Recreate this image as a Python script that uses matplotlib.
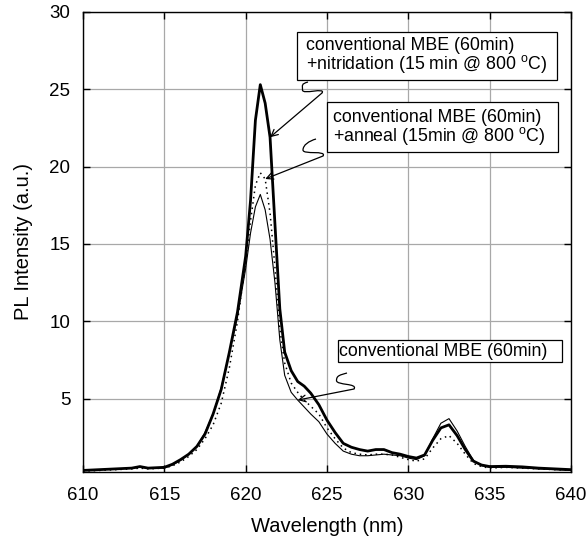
import matplotlib
matplotlib.use("Agg")
import matplotlib.pyplot as plt
from matplotlib.patches import Rectangle, PathPatch
from matplotlib.path import Path

plt.rcParams["font.family"] = ["Liberation Sans", "DejaVu Sans"]
plt.rcParams["mathtext.fontset"] = "custom"
plt.rcParams["mathtext.rm"] = "Liberation Sans"

# PL spectra read on a shared wavelength grid (nm)
wavelength = [610, 611, 612, 613, 613.5, 614, 615, 615.5, 616, 616.5, 617, 617.5,
              618, 618.5, 619, 619.5, 620, 620.3, 620.6, 620.9, 621.2, 621.5, 621.8,
              622.1, 622.4, 622.8, 623.2, 623.6, 624, 624.5, 625, 625.5, 626, 626.5,
              627, 627.5, 628, 628.5, 629, 629.5, 630, 630.5, 631, 631.5, 632, 632.5,
              633, 633.5, 634, 634.5, 635, 636, 637, 638, 639, 640]

nitridation = [0.35, 0.4, 0.45, 0.5, 0.6, 0.5, 0.55, 0.75, 1.05, 1.4, 1.9, 2.7,
               4.0, 5.6, 8.0, 10.6, 14.2, 17.8, 23.0, 25.3, 24.1, 21.9, 16.3,
               10.8, 8.0, 6.8, 6.1, 5.8, 5.35, 4.6, 3.6, 2.8, 2.1, 1.85,
               1.7, 1.6, 1.7, 1.7, 1.5, 1.4, 1.25, 1.15, 1.35, 2.3, 3.1, 3.3,
               2.6, 1.7, 0.95, 0.7, 0.6, 0.62, 0.58, 0.5, 0.45, 0.4]

anneal = [0.3, 0.35, 0.4, 0.45, 0.5, 0.45, 0.5, 0.65, 0.9, 1.25, 1.7, 2.4,
          3.3, 4.7, 7.0, 10.0, 13.8, 16.5, 18.8, 19.6, 19.2, 17.0, 13.5,
          9.5, 7.3, 6.0, 5.4, 4.9, 4.5, 4.0, 3.1, 2.4, 1.8, 1.5,
          1.4, 1.35, 1.4, 1.4, 1.35, 1.2, 1.05, 0.95, 1.1, 1.8, 2.4, 2.6,
          2.1, 1.4, 0.8, 0.6, 0.5, 0.55, 0.5, 0.45, 0.4, 0.35]

conventional = [0.35, 0.4, 0.45, 0.5, 0.55, 0.5, 0.5, 0.7, 1.0, 1.4, 1.9, 2.8,
                4.0, 5.7, 8.0, 10.3, 13.4, 15.7, 17.4, 18.2, 17.2, 15.3, 12.5,
                8.8, 6.5, 5.4, 4.9, 4.45, 4.0, 3.5, 2.7, 2.1, 1.6, 1.4,
                1.3, 1.3, 1.35, 1.4, 1.35, 1.3, 1.15, 1.05, 1.3, 2.4, 3.4, 3.7,
                2.9, 1.9, 1.0, 0.65, 0.55, 0.55, 0.5, 0.45, 0.4, 0.35]

x_ticks = [610, 615, 620, 625, 630, 635, 640]
y_ticks = [5, 10, 15, 20, 25, 30]

labels = [
    "conventional MBE (60min)\n" + r"+nitridation (15 min @ 800 $^{\mathrm{o}}$C)",
    "conventional MBE (60min)\n" + r"+anneal (15min @ 800 $^{\mathrm{o}}$C)",
    "conventional MBE (60min)",
]

W, H = 586, 545


def to_data(ax, px, py):
    # pixel position (origin top-left) -> data coordinates
    return tuple(ax.transData.inverted().transform((px, H - py)))


def lead(ax, start, lobe, turn, tip):
    # S-shaped leader hanging off a label box, ending in a straight arrow
    sx, sy = start
    lx, ly = lobe
    tx, ty = turn
    pix = [(sx, sy), (sx - 7, sy + 2), (lx, ly - 5), (lx, ly),
           (lx, ly + 5), (tx + 4, ty - 6), (tx, ty)]
    verts = [to_data(ax, *p) for p in pix]
    codes = [Path.MOVETO] + [Path.CURVE4] * 6
    ax.add_patch(PathPatch(Path(verts, codes), facecolor="none", edgecolor="black",
                           lw=0.9, zorder=5))
    ax.annotate("", xy=tip, xytext=verts[-1],
                arrowprops=dict(arrowstyle="->", color="black", lw=0.9, shrinkA=0, shrinkB=0,
                                mutation_scale=12), zorder=5)


fig = plt.figure(figsize=(W / 100, H / 100), dpi=100)
ax = fig.add_axes([0.1416, 0.134, 0.8328, 0.844])

ax.plot(wavelength, conventional, color="black", lw=0.8, zorder=3)
ax.plot(wavelength, anneal, color="black", lw=1.1, ls=(0, (1, 2.5)), zorder=3)
ax.plot(wavelength, nitridation, color="black", lw=2.0, zorder=4)

ax.set_xlim(610, 640)
ax.set_ylim(0.25, 30)
ax.set_xticks(x_ticks)
ax.set_yticks(y_ticks)
ax.grid(True, color="#a8a8a8", lw=0.9)
ax.set_axisbelow(True)
ax.tick_params(direction="in", top=True, right=True, length=5, width=1.0,
               labelsize=13.5, pad=9)
ax.tick_params(axis="x", pad=11)
for s in ax.spines.values():
    s.set_linewidth(1.0)

ax.set_xlabel("Wavelength (nm)", fontsize=14.5, labelpad=9)
ax.set_ylabel("PL Intensity (a.u.)", fontsize=14.5, labelpad=12)

# label boxes (axes fractions); text anchored at the baseline of its last line
boxes = [(0.438, 0.852, 0.533, 0.105), (0.4994, 0.696, 0.4746, 0.109), (0.522, 0.2398, 0.459, 0.0472)]
text_pos = [(0.457, 0.8754), (0.512, 0.7202), (0.5246, 0.2522)]
for (bx, by, bw, bh), (tx, ty), text in zip(boxes, text_pos, labels):
    ax.add_patch(Rectangle((bx, by), bw, bh, transform=ax.transAxes, facecolor="white",
                           edgecolor="black", lw=0.9, zorder=6))
    ax.text(tx, ty, text, transform=ax.transAxes, fontsize=12.8, va="baseline",
            ha="left", linespacing=0.93, zorder=7)

i_nit = wavelength.index(621.5)
i_ann = wavelength.index(621.2)
i_con = wavelength.index(623.2)
lead(ax, (308, 82), (302.5, 90), (322, 93), (wavelength[i_nit], nitridation[i_nit]))
lead(ax, (316, 139), (303, 150), (323, 156), (wavelength[i_ann], anneal[i_ann]))
lead(ax, (347, 373), (336.5, 380.5), (354, 389), (wavelength[i_con], conventional[i_con]))

fig.savefig("out.png", dpi=100, facecolor="white")
